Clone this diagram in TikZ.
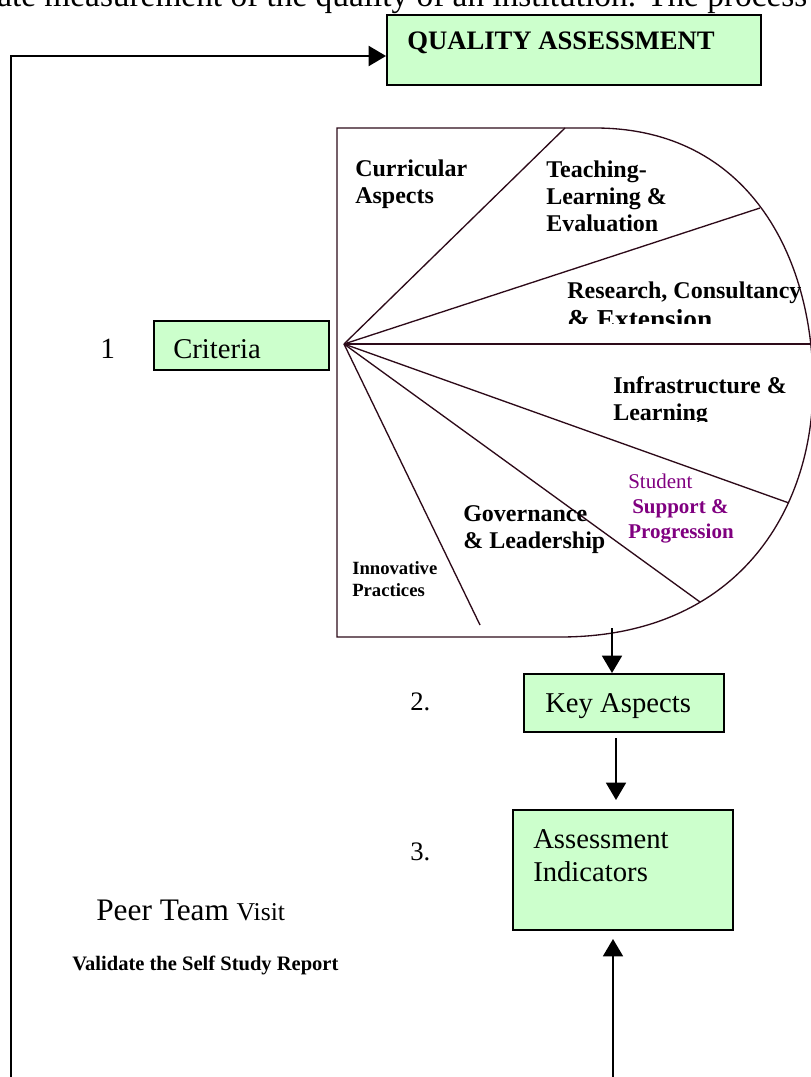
\documentclass[tikz,border=0pt]{standalone}
\usepackage{fontspec}
\setmainfont{Liberation Serif}
\usetikzlibrary{arrows.meta}

\definecolor{boxgreen}{HTML}{CCFFCC}
\definecolor{piecol}{HTML}{2D0A19}
\definecolor{stupurple}{HTML}{800080}

\tikzset{
  gbox/.style={draw=black, line width=1.5pt, fill=boxgreen, inner sep=0pt, anchor=north west},
  txt/.style={inner sep=0pt, anchor=base west, align=left},
  boxfont/.style={font=\fontsize{21.5}{24.75}\selectfont},
  numfont/.style={font=\fontsize{20}{24}\selectfont},
  piefont/.style={font=\fontsize{18}{20.25}\selectfont\bfseries},
  pieline/.style={draw=piecol, line width=1pt},
  arr/.style={line width=1.3pt, -{Triangle[length=13pt,width=15pt]}}
}

\begin{document}
\begin{tikzpicture}[x=0.75pt,y=-0.75pt]
    \useasboundingbox (0,0) rectangle (810,1077);

    % Page text above the chart
    \node[txt, font=\fontsize{25}{29}\selectfont] (pagetext) at (-3,7) {ate measurement of the quality of an institution. The process};

    % Define coordinates
    \coordinate (hub) at (344,344);
    \coordinate (s1) at (565,128);
    \coordinate (s2) at (760,208);
    \coordinate (s3) at (813,344);
    \coordinate (s4) at (789,503);
    \coordinate (s5) at (700,602);
    \coordinate (s6) at (480,625);

    % Draw the criteria shape
    \draw[pieline] (337,128) -- (595,128) .. controls (748,128) and (813,256) .. (813,385)
        .. controls (813,511) and (737,637) .. (560,637) -- (337,637) -- cycle;
    \foreach \s in {s1,s2,s3,s4,s5,s6}
        \draw[pieline] (hub) -- (\s);

    % Labels of the criteria
    \node[txt, piefont] (curr) at (355,203) {Curricular\\Aspects};
    \node[txt, piefont] (teach) at (546,231) {Teaching-\\Learning \&\\Evaluation};
    \begin{scope}
        \clip (337,128) rectangle (816,323);
        \node[txt, piefont] (res) at (567,328) {Research, Consultancy\\[2pt]{\fontsize{20.5}{20.25}\selectfont\& Extension}};
    \end{scope}
    \begin{scope}
        \clip (337,344) rectangle (816,421);
        \node[txt, piefont] (infra) at (613,420) {Infrastructure \&\\Learning};
    \end{scope}
    \node[txt, font=\fontsize{15.75}{18.4}\selectfont, text=stupurple] (stud) at (628,538) {Student\\\hspace{3pt}\textbf{Support \&}\\\textbf{Progression}};
    \node[txt, piefont] (gov) at (463,548) {Governance\\\& Leadership};
    \node[txt, font=\fontsize{14}{16.5}\selectfont\bfseries] (innov) at (352,596) {Innovative\\Practices};

    % Draw boxes
    \node[gbox, minimum width=280.5pt, minimum height=52.5pt] (qa) at (386,14) {};
    \node[gbox, minimum width=131.25pt, minimum height=36.75pt] (crit) at (153,320) {};
    \node[gbox, minimum width=150pt, minimum height=43.5pt] (key) at (523,673) {};
    \node[gbox, minimum width=165pt, minimum height=90pt] (ind) at (512,809) {};

    % Text in boxes
    \node[txt, font=\fontsize{20}{24}\selectfont\bfseries] (qatext) at (407,50) {QUALITY ASSESSMENT};
    \node[txt, boxfont] (crittext) at (173,358) {Criteria};
    \node[txt, boxfont] (keytext) at (545,712) {Key Aspects};
    \node[txt, boxfont] (indtext) at (533,881) {Assessment\\Indicators};

    % Step numbers
    \node[txt, font=\fontsize{22}{26}\selectfont] (n1) at (100,358) {1};
    \node[txt, numfont] (n2) at (410,710) {2.};
    \node[txt, numfont] (n3) at (410,860) {3.};

    % Peer team
    \node[txt] (peer) at (96,920) {{\fontsize{23.5}{28}\selectfont Peer Team }{\fontsize{19.25}{23}\selectfont Visit}};
    \node[txt, font=\fontsize{15.4}{18}\selectfont\bfseries] (valid) at (72,970) {Validate the Self Study Report};

    % Draw arrows
    \coordinate (piebot) at (612,628);
    \draw[arr] (piebot) -- (piebot |- key.north);
    \draw[arr, shorten <=3.75pt, shorten >=6.75pt] ([xshift=-6pt]key.south) -- ([xshift=-6pt]key.south |- ind.north);
    \coordinate (feedin) at (613,1077);
    \draw[arr, shorten >=6pt] (feedin) -- (feedin |- ind.south);
    \coordinate (loop) at (11,1077);
    \draw[arr, line width=1.5pt] (loop) |- ([yshift=-4.5pt]qa.west);
\end{tikzpicture}
\end{document}
